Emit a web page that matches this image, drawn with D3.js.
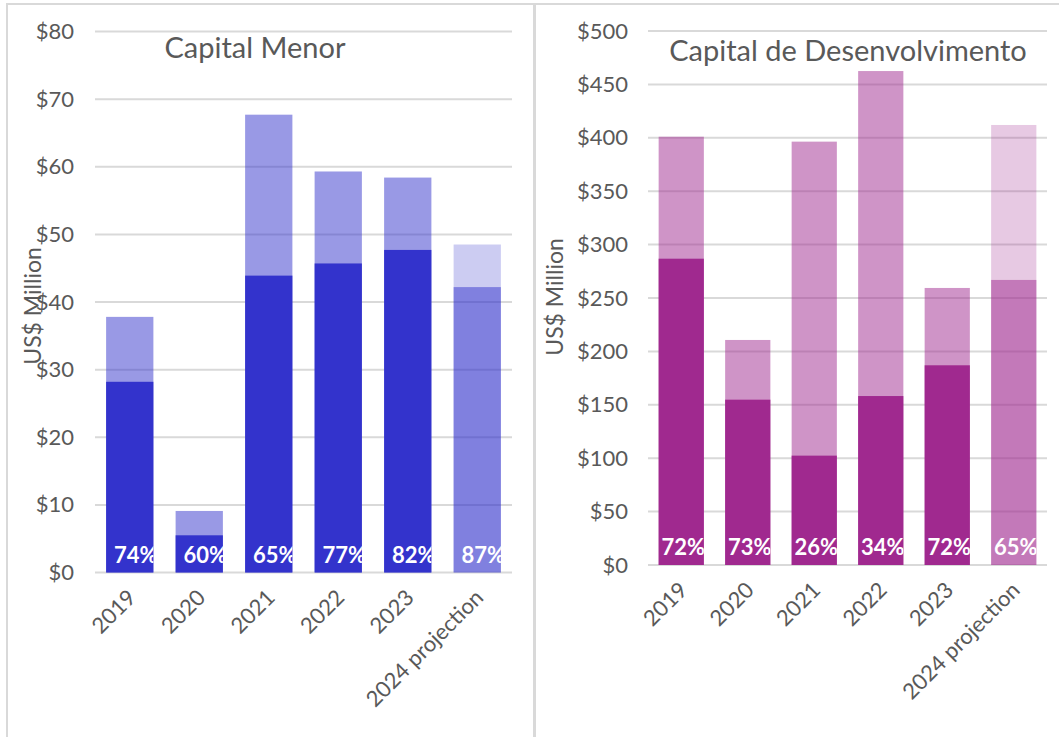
<!DOCTYPE html>
<html>
<head>
<meta charset="utf-8">
<script src="https://cdn.jsdelivr.net/npm/d3@7"></script>
<style>
  body { margin: 0; background: #fff; }
  text { font-family: Lato, "DejaVu Sans", sans-serif; }
</style>
</head>
<body>
<svg width="1059" height="737"></svg>
<script>
var years = ["2019", "2020", "2021", "2022", "2023", "2024 projection"];

// Capital Menor (US$ million)
var menorTotal = [37.8, 9.1, 67.7, 59.3, 58.4, 48.5];
var menorSpent = [28.2, 5.5, 43.9, 45.7, 47.7, 42.2];
var menorPct = ["74%", "60%", "65%", "77%", "82%", "87%"];

// Capital de Desenvolvimento (US$ million)
var desTotal = [401, 210.7, 396.4, 462.5, 259.4, 412];
var desSpent = [286.8, 154.8, 102.4, 158.2, 187, 266.9];
var desPct = ["72%", "73%", "26%", "34%", "72%", "65%"];

var svg = d3.select("svg");

// panel frames
svg.append("rect").attr("x", 7).attr("y", 4).attr("width", 527).attr("height", 800)
    .attr("fill", "none").attr("stroke", "#d9d9d9").attr("stroke-width", 2);
svg.append("rect").attr("x", 535).attr("y", 4).attr("width", 600).attr("height", 800)
    .attr("fill", "none").attr("stroke", "#d9d9d9").attr("stroke-width", 2);

var defs = svg.append("defs");

function drawChart(opt) {
    var g = svg.append("g");

    var x = d3.scaleBand()
        .domain(years)
        .range([opt.x0, opt.x1])
        .paddingInner(0.32)
        .paddingOuter(0.16);

    var y = d3.scaleLinear()
        .domain([0, opt.max])
        .range([opt.y0, opt.y1]);

    var ticks = d3.range(0, opt.max + 1, opt.step);

    // gridlines
    g.selectAll(".grid")
        .data(ticks)
        .enter()
        .append("line")
        .attr("class", "grid")
        .attr("x1", opt.x0).attr("x2", opt.x1)
        .attr("y1", function (d) {return y(d);})
        .attr("y2", function (d) {return y(d);})
        .attr("stroke", "#d9d9d9")
        .attr("stroke-width", 2);

    // y axis labels
    var yAxis = d3.axisLeft(y)
        .tickValues(ticks)
        .tickSize(0)
        .tickPadding(opt.pad)
        .tickFormat(function (d) {return "$" + d;});
    var ya = g.append("g")
        .attr("transform", "translate(" + opt.x0 + ",0)")
        .call(yAxis);
    ya.select(".domain").remove();
    ya.selectAll("text")
        .style("font-size", "22px")
        .attr("fill", "#595959");

    // total bars (lighter)
    g.selectAll(".total")
        .data(opt.total)
        .enter()
        .append("rect")
        .attr("class", "total")
        .attr("x", function (d, i) {return x(years[i]);})
        .attr("width", x.bandwidth())
        .attr("y", function (d) {return y(d);})
        .attr("height", function (d) {return y(0) - y(d);})
        .attr("fill", opt.color)
        .attr("fill-opacity", function (d, i) {return i === 5 ? 0.25 : 0.5;});

    // spent bars
    g.selectAll(".spent")
        .data(opt.spent)
        .enter()
        .append("rect")
        .attr("class", "spent")
        .attr("x", function (d, i) {return x(years[i]);})
        .attr("width", x.bandwidth())
        .attr("y", function (d) {return y(d);})
        .attr("height", function (d) {return y(0) - y(d);})
        .attr("fill", opt.color)
        .attr("fill-opacity", function (d, i) {return i === 5 ? 0.5 : 1;});

    // clip paths so labels stay inside the bars
    years.forEach(function (yr, i) {
        defs.append("clipPath")
            .attr("id", opt.id + "clip" + i)
            .append("rect")
            .attr("x", x(yr))
            .attr("y", y(opt.spent[i]))
            .attr("width", x.bandwidth())
            .attr("height", y(0) - y(opt.spent[i]));
    });

    g.selectAll(".pct")
        .data(opt.pct)
        .enter()
        .append("text")
        .attr("class", "pct")
        .attr("clip-path", function (d, i) {return "url(#" + opt.id + "clip" + i + ")";})
        .attr("x", function (d, i) {return x(years[i]) + x.bandwidth() / 2 + opt.ldx;})
        .attr("y", opt.y0 - 10)
        .attr("text-anchor", "middle")
        .attr("fill", "#fff")
        .style("font-size", "22px")
        .style("font-weight", "bold")
        .text(function (d) {return d;});

    // x labels
    g.selectAll(".xl")
        .data(years)
        .enter()
        .append("text")
        .attr("class", "xl")
        .attr("transform", function (d) {
            return "translate(" + (x(d) + x.bandwidth() / 2 + 2) + "," + (opt.y0 + 21) + ") rotate(-45)";
        })
        .attr("text-anchor", "end")
        .attr("dy", "0.35em")
        .attr("fill", "#595959")
        .style("font-size", "22px")
        .text(function (d) {return d;});

    // title
    g.append("text")
        .attr("x", opt.tx)
        .attr("y", opt.ty)
        .attr("text-anchor", "middle")
        .attr("fill", "#595959")
        .style("font-size", "29px")
        .text(opt.title);

    // y axis title
    g.append("text")
        .attr("transform", "translate(" + opt.ax + "," + opt.ay + ") rotate(-90)")
        .attr("text-anchor", "middle")
        .attr("dy", "0.35em")
        .attr("fill", "#595959")
        .style("font-size", "23px")
        .text("US$ Million");
}

drawChart({
    id: "menor", title: "Capital Menor",
    total: menorTotal, spent: menorSpent, pct: menorPct,
    color: "#3333cc", max: 80, step: 10,
    x0: 95, x1: 512, y0: 572.5, y1: 31.5, pad: 21, ldx: 6,
    tx: 255, ty: 58, ax: 33, ay: 306
});

drawChart({
    id: "des", title: "Capital de Desenvolvimento",
    total: desTotal, spent: desSpent, pct: desPct,
    color: "#a0298f", max: 500, step: 50,
    x0: 648, x1: 1047, y0: 565, y1: 31, pad: 20, ldx: 2,
    tx: 848, ty: 61, ax: 555, ay: 297
});
</script>
</body>
</html>
